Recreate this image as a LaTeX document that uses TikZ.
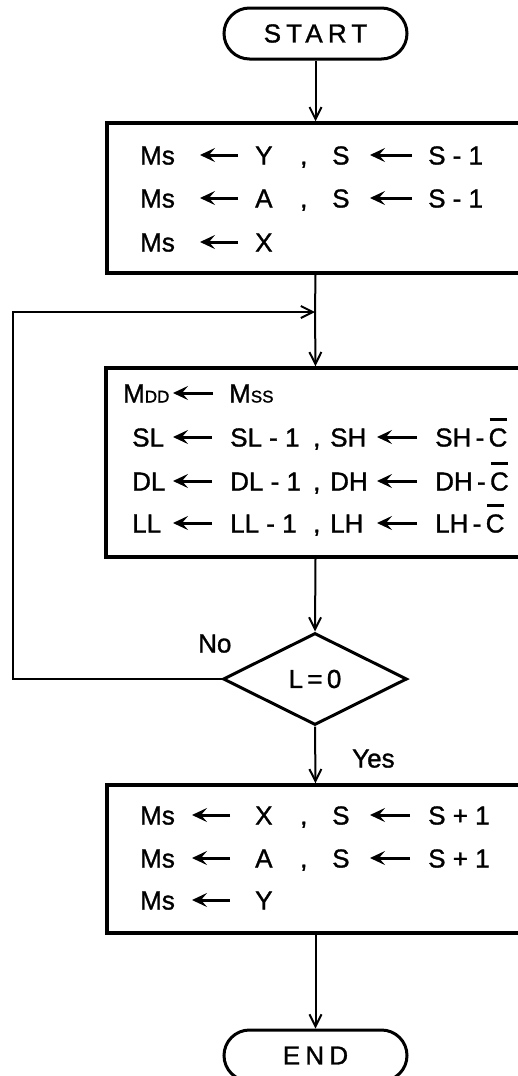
\documentclass[tikz,border=0pt]{standalone}
\usepackage{fontspec}
\setmainfont{Liberation Sans}[FakeBold=1.2]
\usetikzlibrary{arrows.meta,shapes.geometric,shapes.misc}
\newcommand\Cb{\leavevmode\rlap{\hspace{1pt}\raisebox{26pt}{\rule{17pt}{2.5pt}}}C}
\newcommand\smc[1]{{\fontsize{17}{20}\selectfont #1}}
\newcommand\tfont{\fontsize{26}{30}\selectfont}
\begin{document}
\begin{tikzpicture}[x=1pt,y=-1pt,
  term/.style={rounded rectangle, draw, line width=3pt, minimum width=183pt, minimum height=51pt, inner sep=0pt,
    font=\tfont\addfontfeature{LetterSpace=20}},
  boxnode/.style={draw, rectangle, line width=3.5pt, inner sep=0pt},
  dec/.style={diamond, draw, line width=3pt, minimum width=184pt, minimum height=92pt, inner sep=0pt, aspect=2,
    font=\tfont},
  conn/.style={line width=2pt, -{Straight Barb[length=12pt,width=12pt,line width=2pt]}},
  plain/.style={line width=2pt},
  tarr/.style={line width=3pt, -{Stealth[length=15pt,width=14pt,inset=6pt]}},
  txt/.style={anchor=base west, inner sep=0pt, font=\tfont}]
\fill[white] (0,0) rectangle (518,1076);
\useasboundingbox (0,0) rectangle (518,1076);
\clip (0,0) rectangle (518,1076);

% shapes
\node[term] (start) at (315.5,33.5) {START};
\node[boxnode, minimum width=433pt, minimum height=150pt] (b1) at (323.5,198) {};
\node[boxnode, minimum width=434pt, minimum height=189pt] (b2) at (323,462.5) {};
\node[dec] (d) at (315,679) {L\,=\,0};
\node[boxnode, minimum width=433pt, minimum height=148pt] (b3) at (323.5,859) {};
\node[term] (end) at (315.5,1055.5) {END};

% connectors
\coordinate (j) at (315,312);
\coordinate (lt) at (13,312);
\draw[conn] (start.south) -- (start.south |- b1.north);
\draw[plain] (b1.south -| start) -- (j);
\draw[conn] (j) -- (b2.north -| start);
\draw[conn] (d.west) -- (d.west -| lt) -- (lt) -- (j);
\draw[conn] (b2.south -| start) -- (d.north);
\draw[conn] (d.south) -- (b3.north -| start);
\draw[conn] (b3.south -| start) -- (end.north);

\node[txt] (no) at (198,652.5) {No};
\node[txt] (yes) at (352,767.5) {Yes};

% box 1
\node[txt] (m11) at (140,164.5) {Ms};
\draw[tarr] (238,155) -- (200,155);
\node[txt] (v11) at (255,164.5) {Y};
\node[txt] (c11) at (300,164.5) {,};
\node[txt] (s11) at (332,164.5) {S};
\draw[tarr] (412,155) -- (370,155);
\node[txt] (e11) at (428,164.5) {S - 1};

\node[txt] (m12) at (140,207.5) {Ms};
\draw[tarr] (238,198) -- (200,198);
\node[txt] (v12) at (255,207.5) {A};
\node[txt] (c12) at (300,207.5) {,};
\node[txt] (s12) at (332,207.5) {S};
\draw[tarr] (412,198) -- (370,198);
\node[txt] (e12) at (428,207.5) {S - 1};

\node[txt] (m13) at (140,251.5) {Ms};
\draw[tarr] (238,242) -- (200,242);
\node[txt] (v13) at (255,251.5) {X};

% box 2
\node[txt] (m21) at (123,402.5) {M\smc{DD}};
\draw[tarr] (213,393) -- (173,393);
\node[txt] (v21) at (229,402.5) {M\smc{SS}};

\node[txt] (a22) at (132,446.5) {SL};
\draw[tarr] (212,437) -- (173,437);
\node[txt] (b22) at (230,446.5) {SL - 1};
\node[txt] (c22) at (313,446.5) {,};
\node[txt] (d22) at (330,446.5) {SH};
\draw[tarr] (417,437) -- (377,437);
\node[txt] (e22) at (435,446.5) {SH\,-\,\Cb};

\node[txt] (a23) at (132,490.5) {DL};
\draw[tarr] (212,481) -- (173,481);
\node[txt] (b23) at (230,490.5) {DL - 1};
\node[txt] (c23) at (313,490.5) {,};
\node[txt] (d23) at (330,490.5) {DH};
\draw[tarr] (417,481) -- (377,481);
\node[txt] (e23) at (435,490.5) {DH\,-\,\Cb};

\node[txt] (a24) at (132,532.5) {LL};
\draw[tarr] (212,523) -- (173,523);
\node[txt] (b24) at (230,532.5) {LL - 1};
\node[txt] (c24) at (313,532.5) {,};
\node[txt] (d24) at (330,532.5) {LH};
\draw[tarr] (417,523) -- (377,523);
\node[txt] (e24) at (435,532.5) {LH\,-\,\Cb};

% box 3
\node[txt] (m31) at (140,824.5) {Ms};
\draw[tarr] (230,815) -- (192,815);
\node[txt] (v31) at (255,824.5) {X};
\node[txt] (c31) at (300,824.5) {,};
\node[txt] (s31) at (332,824.5) {S};
\draw[tarr] (410,815) -- (370,815);
\node[txt] (e31) at (428,824.5) {S + 1};

\node[txt] (m32) at (140,867.5) {Ms};
\draw[tarr] (230,858) -- (192,858);
\node[txt] (v32) at (255,867.5) {A};
\node[txt] (c32) at (300,867.5) {,};
\node[txt] (s32) at (332,867.5) {S};
\draw[tarr] (410,858) -- (370,858);
\node[txt] (e32) at (428,867.5) {S + 1};

\node[txt] (m33) at (140,909.5) {Ms};
\draw[tarr] (230,900) -- (192,900);
\node[txt] (v33) at (255,909.5) {Y};
\end{tikzpicture}
\end{document}
